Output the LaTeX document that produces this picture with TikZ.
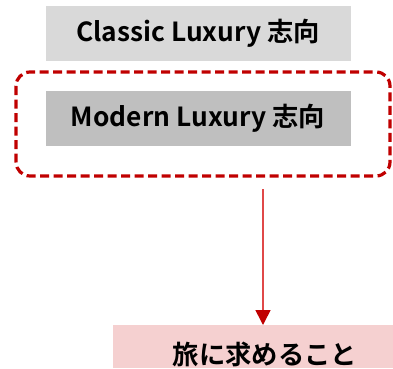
\documentclass[tikz,border=0pt]{standalone}
\usepackage{fontspec}
\setmainfont{Noto Sans CJK JP}[BoldFont={Noto Sans CJK JP Bold}]
\usetikzlibrary{arrows.meta}
\definecolor{lgray}{HTML}{D9D9D9}
\definecolor{mgray}{HTML}{BFBFBF}
\definecolor{dred}{HTML}{C00000}
\definecolor{lred}{HTML}{E04848}
\definecolor{pinkf}{HTML}{F5D0D0}
\begin{document}
\begin{tikzpicture}[x=1pt,y=-1pt,
  lbl/.style={font=\fontsize{26.3}{29}\selectfont\bfseries}]
\useasboundingbox (0,0) rectangle (393,368);
\fill[lgray] (46,6) rectangle (351,61);
\node[lbl] (classic) at (198,33) {Classic Luxury 志向};
\draw[dred,line width=3.2pt,dash pattern=on 9pt off 4.5pt,rounded corners=14pt] (16,72) rectangle (390,176);
\fill[mgray] (46,91) rectangle (351,146);
\node[lbl] (modern) at (198,118) {Modern Luxury 志向};
\fill[pinkf] (113,325) rectangle (393,368);
\node[lbl] (goal) at (265,354) {旅に求めること};
\coordinate (start) at (263,189);
\coordinate (tip) at (263,325);
\draw[lred,line width=1.6pt,-{Triangle[length=15pt,width=15pt,color=dred]}] (start) -- (tip);
\end{tikzpicture}
\end{document}
